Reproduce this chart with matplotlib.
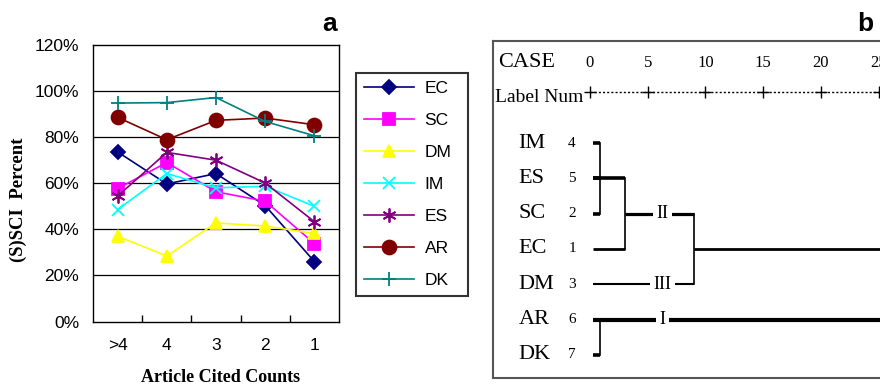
import matplotlib
matplotlib.use("Agg")
import matplotlib.pyplot as plt
from matplotlib.ticker import FixedLocator, PercentFormatter

plt.rcParams["font.family"] = ["Liberation Sans", "DejaVu Sans"]

# ---- panel a data ----
categories = [">4", "4", "3", "2", "1"]
ec = [73.6, 59.7, 64.2, 50.3, 26.0]
sc = [57.7, 69.0, 56.3, 52.2, 33.8]
dm = [37.0, 28.4, 42.8, 41.4, 38.2]
im = [48.6, 64.2, 58.0, 58.7, 50.0]
es = [54.4, 73.4, 70.0, 60.1, 43.3]
ar = [88.6, 78.9, 87.3, 88.3, 85.4]
dk = [94.8, 95.0, 97.2, 86.8, 80.6]
y_ticks = [0, 20, 40, 60, 80, 100, 120]

# ---- panel b data (dendrogram) ----
leaf_names = ["IM", "ES", "SC", "EC", "DM", "AR", "DK"]
leaf_nums = ["4", "5", "2", "1", "3", "6", "7"]
scale_ticks = [0, 5, 10, 15, 20, 25]
# merges: (first row, last row, distance, row where the joined cluster continues)
merge_rows = [(0, 2, 0.9, 1), (1, 3, 3.0, 2), (2, 4, 9.0, 3), (5, 6, 0.9, 5), (3, 5, 25.3, 4)]
cluster_marks = [("II", 2), ("III", 4), ("I", 5)]

W, H = 880, 385
fig = plt.figure(figsize=(W / 100, H / 100), dpi=100)


def px_axes(x0, y0, x1, y1):
    return fig.add_axes([x0 / W, 1 - y1 / H, (x1 - x0) / W, (y1 - y0) / H])


# ================= panel a =================
ax = px_axes(93, 45, 339, 321.5)
x = list(range(len(categories)))
series = [
    ("EC", ec, "#000080", "D", 7),
    ("SC", sc, "#FF00FF", "s", 8.5),
    ("DM", dm, "#FFFF00", "^", 9),
    ("IM", im, "#00FFFF", "x", 9),
    ("ES", es, "#800080", (6, 2, 0), 10),
    ("AR", ar, "#800000", "o", 10),
    ("DK", dk, "#008080", "+", 10),
]
handles = []
for name, vals, col, mk, ms in series:
    h, = ax.plot(x, vals, color=col, marker=mk, markersize=ms, lw=1.2,
                 markeredgecolor=col, markerfacecolor=col, markeredgewidth=1.3,
                 label=name, zorder=3)
    handles.append(h)

ax.set_xlim(-0.5, len(categories) - 0.5)
ax.set_ylim(0, 120)
ax.set_yticks(y_ticks)
ax.yaxis.set_major_formatter(PercentFormatter(decimals=0))
for g in y_ticks[1:-1]:
    ax.axhline(g, color="black", lw=0.9, zorder=1)
ax.set_xticks(x)
ax.set_xticklabels(categories)
ax.xaxis.set_minor_locator(FixedLocator([i + 0.5 for i in x[:-1]]))
ax.tick_params(axis="x", which="major", length=0, pad=12, labelsize=12.5)
ax.tick_params(axis="x", which="minor", direction="in", length=5, width=1)
ax.tick_params(axis="y", length=0, pad=10, labelsize=12.5)
for s in ax.spines.values():
    s.set_linewidth(1.0)
fig.text(18 / W, 1 - 200 / H, "(S)SCI  Percent", rotation=90, ha="center", va="center",
         family="Liberation Serif", weight="bold", fontsize=13.5)
fig.text(221 / W, 1 - 377 / H, "Article Cited Counts", ha="center", va="center",
         family="Liberation Serif", weight="bold", fontsize=13)

leg = fig.legend(handles=handles, loc="upper left",
                 bbox_to_anchor=(356 / W, 1 - 298 / H, 112 / W, 225 / H), mode="expand",
                 frameon=True, fancybox=False, edgecolor="black", fontsize=12.5,
                 handlelength=2.9, labelspacing=0.97, borderpad=0.45, handletextpad=0.6,
                 borderaxespad=0)
leg.get_frame().set_linewidth(1.5)

fig.text(330 / W, 1 - 24 / H, "a", ha="center", va="center", weight="bold", fontsize=19)
fig.text(865 / W, 1 - 24 / H, "b", ha="center", va="center", weight="bold", fontsize=19)

# ================= panel b =================
bx = px_axes(492.7, 40.5, 960, 377.5)
ux = 11.54  # px per distance unit
x0px, row0, rowh = 590, 143, 35.3
bx.set_xlim(-(x0px - 492.7) / ux, (960 - x0px) / ux)
bx.set_ylim((377.5 - row0) / rowh, -(row0 - 40.5) / rowh)
bx.set_xticks([])
bx.set_yticks([])
for s in bx.spines.values():
    s.set_edgecolor("#555555")
    s.set_linewidth(1.5)

serif = "Liberation Serif"
bx.text(-8.0, -2.28, "CASE", family=serif, fontsize=16, ha="left", va="center")
bx.text(-8.25, -1.28, "Label Num", family=serif, fontsize=14, ha="left", va="center")
for t in scale_ticks:
    bx.text(t, -2.28, str(t), family=serif, fontsize=12, ha="center", va="center")
bx.plot([0, 33], [-1.45, -1.45], color="black", lw=1, ls=(0, (1.5, 1.5)))
bx.plot(scale_ticks, [-1.45] * len(scale_ticks), ls="none", marker="+", color="black",
        markersize=8, markeredgewidth=1)

for i, (nm, num) in enumerate(zip(leaf_names, leaf_nums)):
    bx.text(-6.2, i, nm, family=serif, fontsize=16, ha="left", va="center")
    bx.text(-1.56, i, num, family=serif, fontsize=11, ha="center", va="center")

# leaf stubs: go to the first merge each leaf joins
leaf_end = {}
for r0, r1, d, rc in merge_rows:
    for r in range(r0, r1 + 1):
        if r not in leaf_end:
            leaf_end[r] = d
leaf_lw = [2.6, 2.6, 2.6, 2.0, 1.5, 3.0, 2.6]
for r in range(len(leaf_names)):
    bx.plot([0.26, leaf_end[r]], [r, r], color="black", lw=leaf_lw[r], solid_capstyle="butt")

# verticals and cluster lines
cluster_lw = [2.6, 2.3, 2.0, 3.0, 2.0]
for k, (r0, r1, d, rc) in enumerate(merge_rows):
    bx.plot([d, d], [r0, r1], color="black", lw=1.2)
    nxt = [m[2] for m in merge_rows if m[2] > d and (m[0] == rc or m[1] == rc)]
    end = min(nxt) if nxt else 33
    if rc == 1:
        # ES row carries the first cluster on to the next merge
        bx.plot([0.26, end], [rc, rc], color="black", lw=2.6, solid_capstyle="butt")
    elif k < len(merge_rows) - 1:
        bx.plot([d, end], [rc, rc], color="black", lw=cluster_lw[k], solid_capstyle="butt")

for lab, r in cluster_marks:
    bx.text(6.3, r, lab, family=serif, fontsize=13, ha="center", va="center",
            bbox=dict(facecolor="white", edgecolor="none", pad=2.5), zorder=5)

fig.savefig("out.png", dpi=100)
